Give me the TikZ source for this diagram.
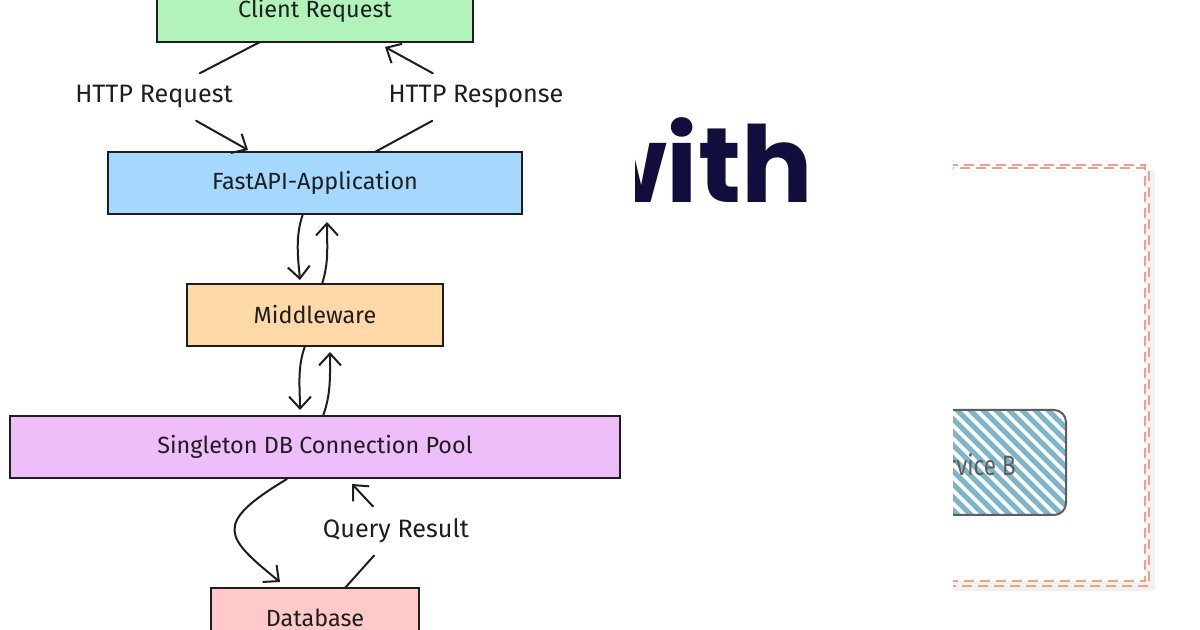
\documentclass[tikz,border=0pt]{standalone}
\usepackage{fontspec}
\setmainfont{Fira Sans}
\newfontfamily\logofont{Poppins}
\usetikzlibrary{arrows.meta,positioning,calc}
\definecolor{ink}{HTML}{1E1E1E}
\definecolor{clientfill}{HTML}{B2F2BB}
\definecolor{apifill}{HTML}{A5D8FF}
\definecolor{mwfill}{HTML}{FFD8A8}
\definecolor{poolfill}{HTML}{EEBEFA}
\definecolor{dbfill}{HTML}{FFC9C9}
\definecolor{framecol}{HTML}{F0A286}
\definecolor{hatchcol}{HTML}{7DB6CA}
\definecolor{navy}{HTML}{110E3D}
\definecolor{svcgrey}{HTML}{5E5E5E}

\begin{document}
\begin{tikzpicture}[x=0.5pt,y=-0.5pt,
  box/.style={draw=ink,line width=0.8pt,minimum height=31pt,inner sep=0pt,outer sep=0pt,font=\fontsize{11.7}{13}\selectfont,text=ink},
  lbl/.style={fill=white,inner sep=6pt,font=\fontsize{12.6}{14}\selectfont,text=ink},
  link/.style={draw=ink,line width=1pt,line cap=round},
  flow/.style={link,-{Straight Barb[length=6pt,width=11pt,line width=1pt]}},
  dashframe/.style={draw=framecol,line width=0.9pt,dash pattern=on 5pt off 3pt}]
\useasboundingbox (0,0) rectangle (1200,630);
\fill[white] (0,0) rectangle (1200,630);

% logo text behind the diagram
\begin{scope}
\clip (635,0) rectangle (900,630);
\node[anchor=base east,inner sep=0pt,text=navy,font=\logofont\bfseries\fontsize{53}{58}\selectfont] (logo) at (813,203) {with};
\end{scope}

% flow boxes
\node[box,fill=clientfill,minimum width=158pt] (client) at (315,11) {Client Request};
\node[box,fill=apifill,minimum width=207pt,below=55pt of client] (api) {FastAPI-Application};
\node[box,fill=mwfill,minimum width=128pt,below=35pt of api] (mw) {Middleware};
\node[box,fill=poolfill,minimum width=305pt,below=35pt of mw] (pool) {Singleton DB Connection Pool};
\node[box,fill=dbfill,minimum width=104pt,below=55pt of pool] (db) {\raisebox{1.5pt}{Database}};

% edge labels
\node[lbl] (reqlbl) at (154,97) {HTTP Request};
\node[lbl] (resplbl) at (476,97) {HTTP Response};
\node[lbl] (qrlbl) at (396,531) {Query Result};

% request / response
\draw[link] ($(client.south)+(-55,0)$) -- (reqlbl);
\draw[flow] (reqlbl) -- ($(api.north)+(-67,-2)$);
\draw[link] ($(api.north)+(60,0)$) -- (resplbl);
\draw[flow] (resplbl) -- ($(client.south)+(70,5)$);

% api <-> middleware
\draw[flow] ($(api.south)+(-12,0)$) .. controls +(-8,22) and +(-2,-22) .. ($(mw.north)+(-15,-4)$);
\draw[flow] ($(mw.north)+(7,0)$) .. controls +(7,-22) and +(0,25) .. ($(api.south)+(12,8)$);

% middleware <-> pool
\draw[flow] ($(mw.south)+(-10,0)$) .. controls +(-8,22) and +(0,-22) .. ($(pool.north)+(-15,-6)$);
\draw[flow] ($(pool.north)+(8,0)$) .. controls +(8,-22) and +(0,25) .. ($(mw.south)+(15,6)$);

% pool <-> database
\draw[flow] ($(pool.south)+(-28,1)$) .. controls +(-75,45) and +(-55,-45) .. ($(db.north)+(-35,-6)$);
\draw[link] ($(db.north)+(30,0)$) -- (qrlbl);
\draw[flow] (qrlbl) -- ($(pool.south)+(37,6)$);

% cut-off service panel
\begin{scope}
\clip (953,0) rectangle (1200,630);
\fill[black!5] (905,170) rectangle (1155,591);
\fill[white] (900,165) rectangle (1145,581);
\draw[dashframe] (900,165) rectangle (1145,581);
\draw[dashframe,line width=0.7pt] (900,168) rectangle (1149,586);
\begin{scope}
\clip[rounded corners=6pt] (880,410) rectangle (1066,515);
\foreach \k in {0,...,24}
  \draw[hatchcol,line width=2.6pt] (760+\k*13,395) -- ++(140,140);
\end{scope}
\draw[svcgrey,line width=1pt,rounded corners=6pt] (880,410) rectangle (1066,515);
\node[anchor=east,inner sep=0pt,xscale=0.8,text=svcgrey,font=\fontsize{14}{16}\selectfont] (svc) at (1016,465) {Service B};
\end{scope}
\end{tikzpicture}
\end{document}
